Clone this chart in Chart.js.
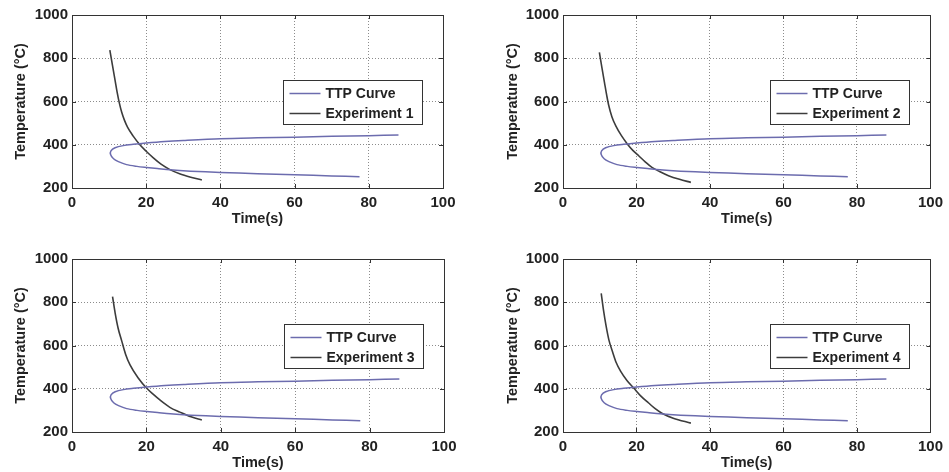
<!DOCTYPE html>
<html>
<head>
<meta charset="utf-8">
<script src="https://cdn.jsdelivr.net/npm/chart.js@4/dist/chart.umd.min.js"></script>
<style>
  html, body { margin: 0; padding: 0; background: #fff; }
  body { width: 949px; height: 472px; position: relative; overflow: hidden; }
  canvas { position: absolute; }
</style>
</head>
<body>
<canvas id="c1" width="470" height="236" style="left:0;top:0"></canvas>
<canvas id="c2" width="479" height="236" style="left:470px;top:0"></canvas>
<canvas id="c3" width="470" height="236" style="left:0;top:236px"></canvas>
<canvas id="c4" width="479" height="236" style="left:470px;top:236px"></canvas>
<script>
// tick labels
const xTicks = [0, 20, 40, 60, 80, 100];
const yTicks = [200, 400, 600, 800, 1000];

// TTP curve (same in every panel), traced from the upper tail round the nose to the lower tail
const ttpTime = [88, 80, 70, 60, 50, 40, 30, 25, 20, 16.5, 13.8, 11.6, 10.5, 10.4, 11.2, 12.5, 14.7, 17.5, 20.1, 23, 26.4, 32, 40, 50, 60, 70, 77.5];
const ttpTemp = [445, 442, 439, 435, 432, 428, 420, 415, 408, 402, 396, 386, 372, 355, 335, 322, 308, 300, 295, 290, 284, 278, 272, 266, 261, 256, 252];

// cooling curves of the four experiments
const exp1Time = [10.2, 10.9, 11.6, 12.2, 12.8, 13.4, 14.1, 15, 16.5, 18.3, 20, 22, 24, 26.4, 29, 32, 35];
const exp1Temp = [838, 768, 699, 640, 590, 550, 515, 480, 440, 400, 370, 338, 310, 285, 266, 250, 237];
const exp2Time = [9.9, 10.6, 11.3, 11.9, 12.4, 13.3, 14.4, 15.9, 17.5, 19, 20.6, 22.3, 24.2, 26.4, 28.7, 31.7, 34.8];
const exp2Temp = [827, 755, 686, 628, 585, 530, 486, 442, 404, 374, 349, 322, 295, 275, 257, 240, 226];
const exp3Time = [10.9, 11.6, 12.4, 13.4, 14.4, 15.6, 17.8, 20.1, 21.8, 23.7, 26.3, 29, 32, 34.9];
const exp3Temp = [826, 750, 680, 619, 560, 510, 450, 402, 375, 347, 314, 292, 270, 255];
const exp4Time = [10.4, 11, 11.7, 12.5, 13.5, 14.5, 15.7, 17.4, 19.3, 21.2, 23.3, 25, 26.9, 30, 34.8];
const exp4Temp = [841, 766, 693, 625, 570, 520, 480, 438, 402, 366, 334, 309, 287, 264, 241];

const expLabels = ['Experiment 1', 'Experiment 2', 'Experiment 3', 'Experiment 4'];
const expTimes = [exp1Time, exp2Time, exp3Time, exp4Time];
const expTemps = [exp1Temp, exp2Temp, exp3Temp, exp4Temp];

const FONT = "'Liberation Sans', Arial, sans-serif";
const TTP_COLOR = '#6c6cae';
const EXP_COLOR = '#3c3c3c';

const toPoints = (xs, ys) => xs.map((x, i) => ({ x, y: ys[i] }));

// box round the axes, inward tick marks and the legend, drawn the MATLAB way
const framePlugin = {
  id: 'frame',
  afterDraw(chart) {
    const { ctx, chartArea: a, scales: { x, y } } = chart;
    ctx.save();
    ctx.strokeStyle = '#333';
    ctx.lineWidth = 1;
    ctx.beginPath();
    xTicks.forEach(v => {
      const px = Math.round(x.getPixelForValue(v)) + 0.5;
      ctx.moveTo(px, a.bottom); ctx.lineTo(px, a.bottom - 4);
      ctx.moveTo(px, a.top); ctx.lineTo(px, a.top + 4);
    });
    yTicks.forEach(v => {
      const py = Math.round(y.getPixelForValue(v)) + 0.5;
      ctx.moveTo(a.left, py); ctx.lineTo(a.left + 4, py);
      ctx.moveTo(a.right, py); ctx.lineTo(a.right - 4, py);
    });
    ctx.stroke();
    ctx.strokeRect(Math.round(a.left) + 0.5, Math.round(a.top) + 0.5,
      Math.round(a.right - a.left), Math.round(a.bottom - a.top));

    // legend
    const bw = 139, bh = 44;
    const bx = Math.round(a.right - 21 - bw) + 0.5;
    const by = Math.round(a.top + 65) + 0.5;
    ctx.fillStyle = '#fff';
    ctx.fillRect(bx, by, bw, bh);
    ctx.strokeStyle = '#333';
    ctx.strokeRect(bx, by, bw, bh);
    ctx.font = 'bold 14px ' + FONT;
    ctx.textBaseline = 'middle';
    ctx.textAlign = 'left';
    chart.data.datasets.forEach((ds, i) => {
      const ly = by + 13 + i * 20;
      ctx.strokeStyle = ds.borderColor;
      ctx.lineWidth = 1.5;
      ctx.beginPath();
      ctx.moveTo(bx + 6, ly); ctx.lineTo(bx + 37, ly);
      ctx.stroke();
      ctx.fillStyle = '#222';
      ctx.fillText(ds.label, bx + 42, ly + 1);
    });
    ctx.restore();
  }
};

function makeChart(id, idx, yWidth, xHeight, padTop, padRight, yTitlePad, xTitlePad) {
  const ctx = document.getElementById(id).getContext('2d');
  return new Chart(ctx, {
    type: 'scatter',
    data: {
      datasets: [
        {
          label: 'TTP Curve',
          data: toPoints(ttpTime, ttpTemp),
          showLine: true,
          borderColor: TTP_COLOR,
          borderWidth: 1.5,
          pointRadius: 0,
          tension: 0.3,
        },
        {
          label: expLabels[idx],
          data: toPoints(expTimes[idx], expTemps[idx]),
          showLine: true,
          borderColor: EXP_COLOR,
          borderWidth: 1.6,
          pointRadius: 0,
          cubicInterpolationMode: 'monotone',
        }
      ]
    },
    options: {
      responsive: false,
      animation: false,
      devicePixelRatio: 1,
      layout: { padding: { top: padTop, right: padRight, left: 0, bottom: 0 } },
      plugins: { legend: { display: false }, tooltip: { enabled: false } },
      scales: {
        x: {
          type: 'linear',
          min: 0, max: 100,
          afterBuildTicks: s => { s.ticks = xTicks.map(v => ({ value: v })); },
          afterFit: s => { s.height = xHeight; },
          grid: { color: '#8c8c8c', lineWidth: 1, drawTicks: false },
          border: { display: false, dash: [1, 2] },
          ticks: { color: '#222', padding: 6, maxRotation: 0, callback: v => String(v), font: { family: FONT, size: 15, weight: 'bold' } },
          title: { display: true, text: 'Time(s)', color: '#222', padding: { top: 0, bottom: xTitlePad }, font: { family: FONT, size: 14.5, weight: 'bold' } }
        },
        y: {
          type: 'linear',
          min: 200, max: 1000,
          afterBuildTicks: s => { s.ticks = yTicks.map(v => ({ value: v })); },
          afterFit: s => { s.width = yWidth; },
          grid: { color: '#8c8c8c', lineWidth: 1, drawTicks: false },
          border: { display: false, dash: [1, 2] },
          ticks: { color: '#222', padding: 4, callback: v => String(v), font: { family: FONT, size: 15, weight: 'bold' } },
          title: { display: true, text: 'Temperature (°C)', color: '#222', padding: { top: yTitlePad, bottom: 0 }, font: { family: FONT, size: 14.5, weight: 'bold' } }
        }
      }
    },
    plugins: [framePlugin]
  });
}

makeChart('c1', 0, 72, 48, 15, 27, 12.5, 8.6);
makeChart('c2', 1, 93, 48, 15, 13, 34.5, 8.6);
makeChart('c3', 2, 72, 40, 23, 26, 12.5, 0);
makeChart('c4', 3, 93, 40, 23, 13, 34.5, 0);
</script>
</body>
</html>
